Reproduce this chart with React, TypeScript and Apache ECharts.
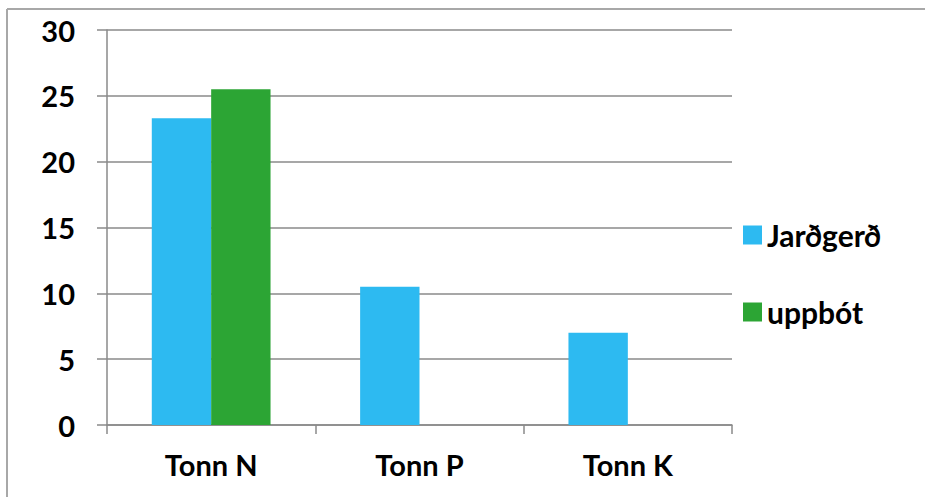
import React, { useEffect, useRef } from "react";
import * as echarts from "echarts";

const categories = ["Tonn N", "Tonn P", "Tonn K"];
const jardgerd = [23.3, 10.5, 7.0];
const uppbot = [25.5, null, null];
const yTicks = { min: 0, max: 30, interval: 5 };

export default function App() {
  const ref = useRef<HTMLDivElement>(null);
  useEffect(() => {
    document.body.style.margin = "0";
    const chart = echarts.init(ref.current!, null, { renderer: "svg" });
    const font = "Lato, 'Open Sans', sans-serif";
    chart.setOption({
      animation: false,
      backgroundColor: "#ffffff",
      textStyle: { fontFamily: font },
      grid: { left: 107, right: 193, top: 30, bottom: 72 },
      graphic: [
        { type: "line", shape: { x1: 7, y1: 9, x2: 7, y2: 497 }, style: { stroke: "#a8a8a8", lineWidth: 2 } },
        { type: "line", shape: { x1: 7, y1: 9, x2: 925, y2: 9 }, style: { stroke: "#a8a8a8", lineWidth: 2 } },
      ],
      legend: {
        orient: "vertical",
        left: 738,
        top: 215,
        itemWidth: 19,
        itemHeight: 19,
        itemGap: 47,
        icon: "rect",
        textStyle: { fontFamily: font, fontSize: 30, fontWeight: "bold", color: "#000" },
        data: ["Jarðgerð", "uppbót"],
      },
      xAxis: {
        type: "category",
        data: categories,
        axisLine: { lineStyle: { color: "#8a8a8a", width: 1.5 } },
        axisTick: { show: true, length: 9, lineStyle: { color: "#8a8a8a", width: 1.5 } },
        axisLabel: { margin: 25, fontFamily: font, fontSize: 29, fontWeight: "bold", color: "#000" },
      },
      yAxis: {
        type: "value",
        min: yTicks.min,
        max: yTicks.max,
        interval: yTicks.interval,
        axisLine: { show: true, lineStyle: { color: "#8a8a8a", width: 1.5 } },
        axisTick: { show: true, length: 10, lineStyle: { color: "#8a8a8a", width: 1.5 } },
        splitLine: { lineStyle: { color: "#8a8a8a", width: 1.5 } },
        axisLabel: { margin: 32, fontFamily: font, fontSize: 29, fontWeight: "bold", color: "#000" },
      },
      series: [
        {
          name: "Jarðgerð",
          type: "bar",
          data: jardgerd,
          itemStyle: { color: "#2DBAF1" },
          barGap: "0%",
          barCategoryGap: "43%",
        },
        {
          name: "uppbót",
          type: "bar",
          data: uppbot,
          itemStyle: { color: "#2CA534" },
          barGap: "0%",
          barCategoryGap: "43%",
        },
      ],
    });
    return () => chart.dispose();
  }, []);
  return <div ref={ref} style={{ width: 925, height: 497 }} />;
}
